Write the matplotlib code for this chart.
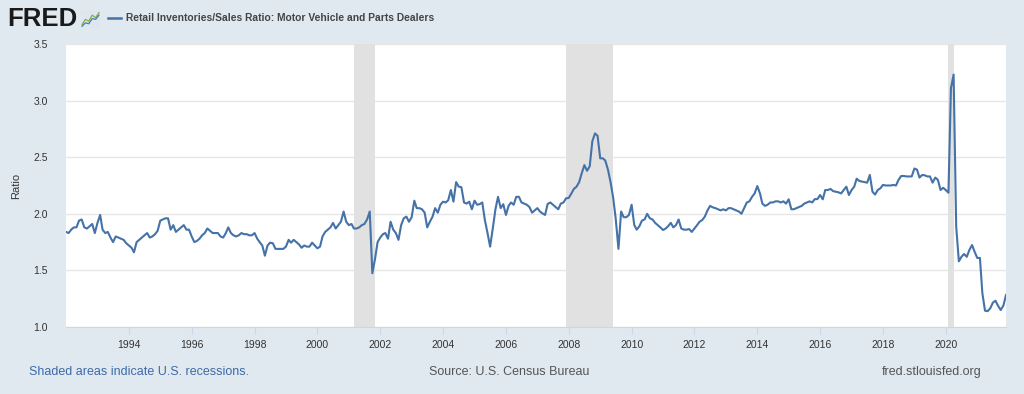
import matplotlib
matplotlib.use("Agg")
import matplotlib.pyplot as plt
import matplotlib.dates as mdates
import pandas as pd
import numpy as np

plt.rcParams['font.family'] = ['Liberation Sans', 'DejaVu Sans']

# ---------------- data (monthly, Jan 1992 - Dec 2021) ----------------
ratio_1992_1999 = [
    1.84, 1.83, 1.86, 1.88, 1.88, 1.94, 1.95, 1.88, 1.87, 1.89, 1.91, 1.83,   # 1992
    1.92, 1.99, 1.86, 1.83, 1.84, 1.79, 1.75, 1.80, 1.79, 1.78, 1.77, 1.74,   # 1993
    1.72, 1.70, 1.66, 1.75, 1.77, 1.79, 1.81, 1.83, 1.79, 1.80, 1.82, 1.85,   # 1994
    1.94, 1.95, 1.96, 1.96, 1.86, 1.90, 1.84, 1.86, 1.88, 1.90, 1.86, 1.86,   # 1995
    1.80, 1.75, 1.76, 1.78, 1.81, 1.83, 1.87, 1.85, 1.83, 1.83, 1.83, 1.80,   # 1996
    1.79, 1.83, 1.88, 1.83, 1.81, 1.80, 1.81, 1.83, 1.82, 1.82, 1.81, 1.81,   # 1997
    1.83, 1.78, 1.75, 1.72, 1.63, 1.72, 1.745, 1.74, 1.69, 1.69, 1.69, 1.69, # 1998
    1.71, 1.77, 1.745, 1.77, 1.75, 1.73, 1.70, 1.72, 1.71, 1.71, 1.745, 1.72, # 1999
]
ratio_2000_2009 = [
    1.695, 1.71, 1.80, 1.84, 1.86, 1.88, 1.92, 1.87, 1.90, 1.93, 2.02, 1.93,  # 2000
    1.90, 1.91, 1.87, 1.87, 1.88, 1.90, 1.91, 1.95, 2.02, 1.475, 1.60, 1.75,  # 2001
    1.79, 1.82, 1.83, 1.78, 1.93, 1.86, 1.83, 1.77, 1.90, 1.96, 1.975, 1.93,  # 2002
    1.97, 2.116, 2.05, 2.05, 2.04, 2.01, 1.88, 1.93, 1.975, 2.05, 2.01, 2.08, # 2003
    2.107, 2.10, 2.12, 2.21, 2.107, 2.28, 2.24, 2.235, 2.10, 2.09, 2.107, 2.04,  # 2004
    2.116, 2.08, 2.085, 2.10, 1.945, 1.83, 1.71, 1.87, 2.04, 2.15, 2.05, 2.085,  # 2005
    1.99, 2.07, 2.10, 2.08, 2.15, 2.15, 2.10, 2.09, 2.08, 2.06, 2.01, 2.03,   # 2006
    2.05, 2.02, 2.004, 1.99, 2.087, 2.10, 2.08, 2.06, 2.04, 2.09, 2.10, 2.137,  # 2007
    2.14, 2.18, 2.22, 2.24, 2.28, 2.36, 2.43, 2.38, 2.42, 2.64, 2.71, 2.69,   # 2008
    2.49, 2.49, 2.47, 2.39, 2.28, 2.14, 1.95, 1.69, 2.02, 1.97, 1.97, 1.99,   # 2009
]
ratio_2010_2021 = [
    2.08, 1.90, 1.86, 1.89, 1.94, 1.95, 2.00, 1.96, 1.95, 1.92, 1.90, 1.88,   # 2010
    1.857, 1.87, 1.89, 1.92, 1.88, 1.90, 1.95, 1.87, 1.86, 1.86, 1.865, 1.84, # 2011
    1.87, 1.90, 1.93, 1.945, 1.975, 2.03, 2.07, 2.057, 2.05, 2.04, 2.03, 2.04,  # 2012
    2.03, 2.05, 2.05, 2.04, 2.03, 2.02, 2.00, 2.05, 2.10, 2.11, 2.15, 2.18,   # 2013
    2.245, 2.18, 2.09, 2.07, 2.08, 2.10, 2.10, 2.11, 2.11, 2.10, 2.11, 2.09,  # 2014
    2.128, 2.04, 2.04, 2.05, 2.06, 2.07, 2.09, 2.10, 2.11, 2.10, 2.13, 2.13,  # 2015
    2.166, 2.128, 2.21, 2.21, 2.22, 2.20, 2.195, 2.19, 2.18, 2.21, 2.24, 2.166,  # 2016
    2.21, 2.24, 2.31, 2.29, 2.285, 2.28, 2.275, 2.343, 2.195, 2.17, 2.21, 2.225, # 2017
    2.255, 2.25, 2.25, 2.25, 2.255, 2.25, 2.30, 2.334, 2.334, 2.33, 2.33, 2.33,  # 2018
    2.40, 2.39, 2.32, 2.343, 2.34, 2.33, 2.33, 2.275, 2.32, 2.30, 2.21, 2.23,    # 2019
    2.21, 2.186, 3.11, 3.23, 1.886, 1.58, 1.62, 1.645, 1.62, 1.68, 1.724, 1.665, # 2020
    1.61, 1.61, 1.30, 1.144, 1.14, 1.165, 1.215, 1.232, 1.185, 1.15, 1.19, 1.283, # 2021
]
ratio = ratio_1992_1999 + ratio_2000_2009 + ratio_2010_2021
dates = pd.date_range("1992-01-01", periods=len(ratio), freq="MS")

recession_starts = ["2001-03-01", "2007-12-01", "2020-02-01"]
recession_ends = ["2001-11-01", "2009-06-01", "2020-04-01"]

y_ticks = [1.0, 1.5, 2.0, 2.5, 3.0, 3.5]
x_tick_years = list(range(1994, 2021, 2))

series_title = "Retail Inventories/Sales Ratio: Motor Vehicle and Parts Dealers"
y_label = "Ratio"
footer_left = "Shaded areas indicate U.S. recessions."
footer_mid = "Source: U.S. Census Bureau"
footer_right = "fred.stlouisfed.org"

# ---------------- styling ----------------
BG = "#e1e9f0"
LINE = "#4572a7"
GRID = "#e6e6e6"
SHADE = "#e1e1e1"
TXT = "#333333"

W, H = 1024, 394
fig = plt.figure(figsize=(W / 100, H / 100), dpi=100, facecolor=BG)

left, right, top, bottom = 66, 1006, 44, 327
ax = fig.add_axes([left / W, 1 - bottom / H, (right - left) / W, (bottom - top) / H])
ax.set_facecolor("white")

for s, e in zip(recession_starts, recession_ends):
    ax.axvspan(pd.Timestamp(s), pd.Timestamp(e), color=SHADE, lw=0, zorder=1)

ax.plot(dates, ratio, color=LINE, lw=1.5, zorder=3, solid_joinstyle="round")

ax.set_xlim(dates[0], dates[-1])
ax.set_ylim(y_ticks[0], y_ticks[-1])
ax.set_yticks(y_ticks)
ax.set_yticklabels([f"{v:.1f}" for v in y_ticks])
ax.yaxis.grid(True, color=GRID, lw=1.0, zorder=0)
ax.set_axisbelow(True)

ax.set_xticks([pd.Timestamp(f"{y}-01-01") for y in x_tick_years])
ax.set_xticklabels([str(y) for y in x_tick_years])

for sp in ax.spines.values():
    sp.set_visible(False)
ax.spines["bottom"].set_visible(True)
ax.spines["bottom"].set_color("#ccd6eb")
ax.spines["bottom"].set_linewidth(0.8)

ax.tick_params(axis="y", length=0, pad=13, labelsize=7.5, labelcolor=TXT)
ax.tick_params(axis="x", length=5, width=0.8, color="#ccd6eb", pad=4,
               labelsize=7.5, labelcolor=TXT)

fig.text(16 / W, 1 - 186 / H, y_label, rotation=90, ha="center", va="center",
         fontsize=8, color=TXT)

# ---------------- header ----------------
fig.text(7 / W, 1 - 18.5 / H, "FRED", fontsize=18.5, fontweight="bold",
         color="#1a1a1a", ha="left", va="center")
icon = fig.add_axes([81 / W, 1 - 28 / H, 19 / W, 18 / H])
icon.set_facecolor("#dfe6ee")
icon_x = [0, 1, 2, 3, 4, 5]
icon_green = [0.8, 2.0, 1.6, 3.0, 2.4, 3.6]
icon_blue = [0.4, 1.2, 1.0, 2.2, 2.0, 3.0]
icon.plot(icon_x, icon_green, color="#7fb23a", lw=0.9)
icon.plot(icon_x, icon_blue, color="#4a7ab8", lw=0.9)
icon.set_xlim(-0.3, 5.3)
icon.set_ylim(0, 4.2)
icon.set_xticks([])
icon.set_yticks([])
for sp in icon.spines.values():
    sp.set_visible(False)

fig.add_artist(plt.Line2D([108 / W, 121 / W], [1 - 18 / H, 1 - 18 / H],
                          color=LINE, lw=1.8, transform=fig.transFigure))
fig.text(126 / W, 1 - 18 / H, series_title, fontsize=7.4, fontweight="bold",
         color="#444444", ha="left", va="center")

# ---------------- footer ----------------
fig.text(29 / W, 1 - 372 / H, footer_left, fontsize=9, color="#3d6aa8",
         ha="left", va="center")
fig.text(509 / W, 1 - 372 / H, footer_mid, fontsize=9, color="#555555",
         ha="center", va="center")
fig.text(982 / W, 1 - 372 / H, footer_right, fontsize=9, color="#555555",
         ha="right", va="center")

fig.savefig("out.png", dpi=100, facecolor=BG)
